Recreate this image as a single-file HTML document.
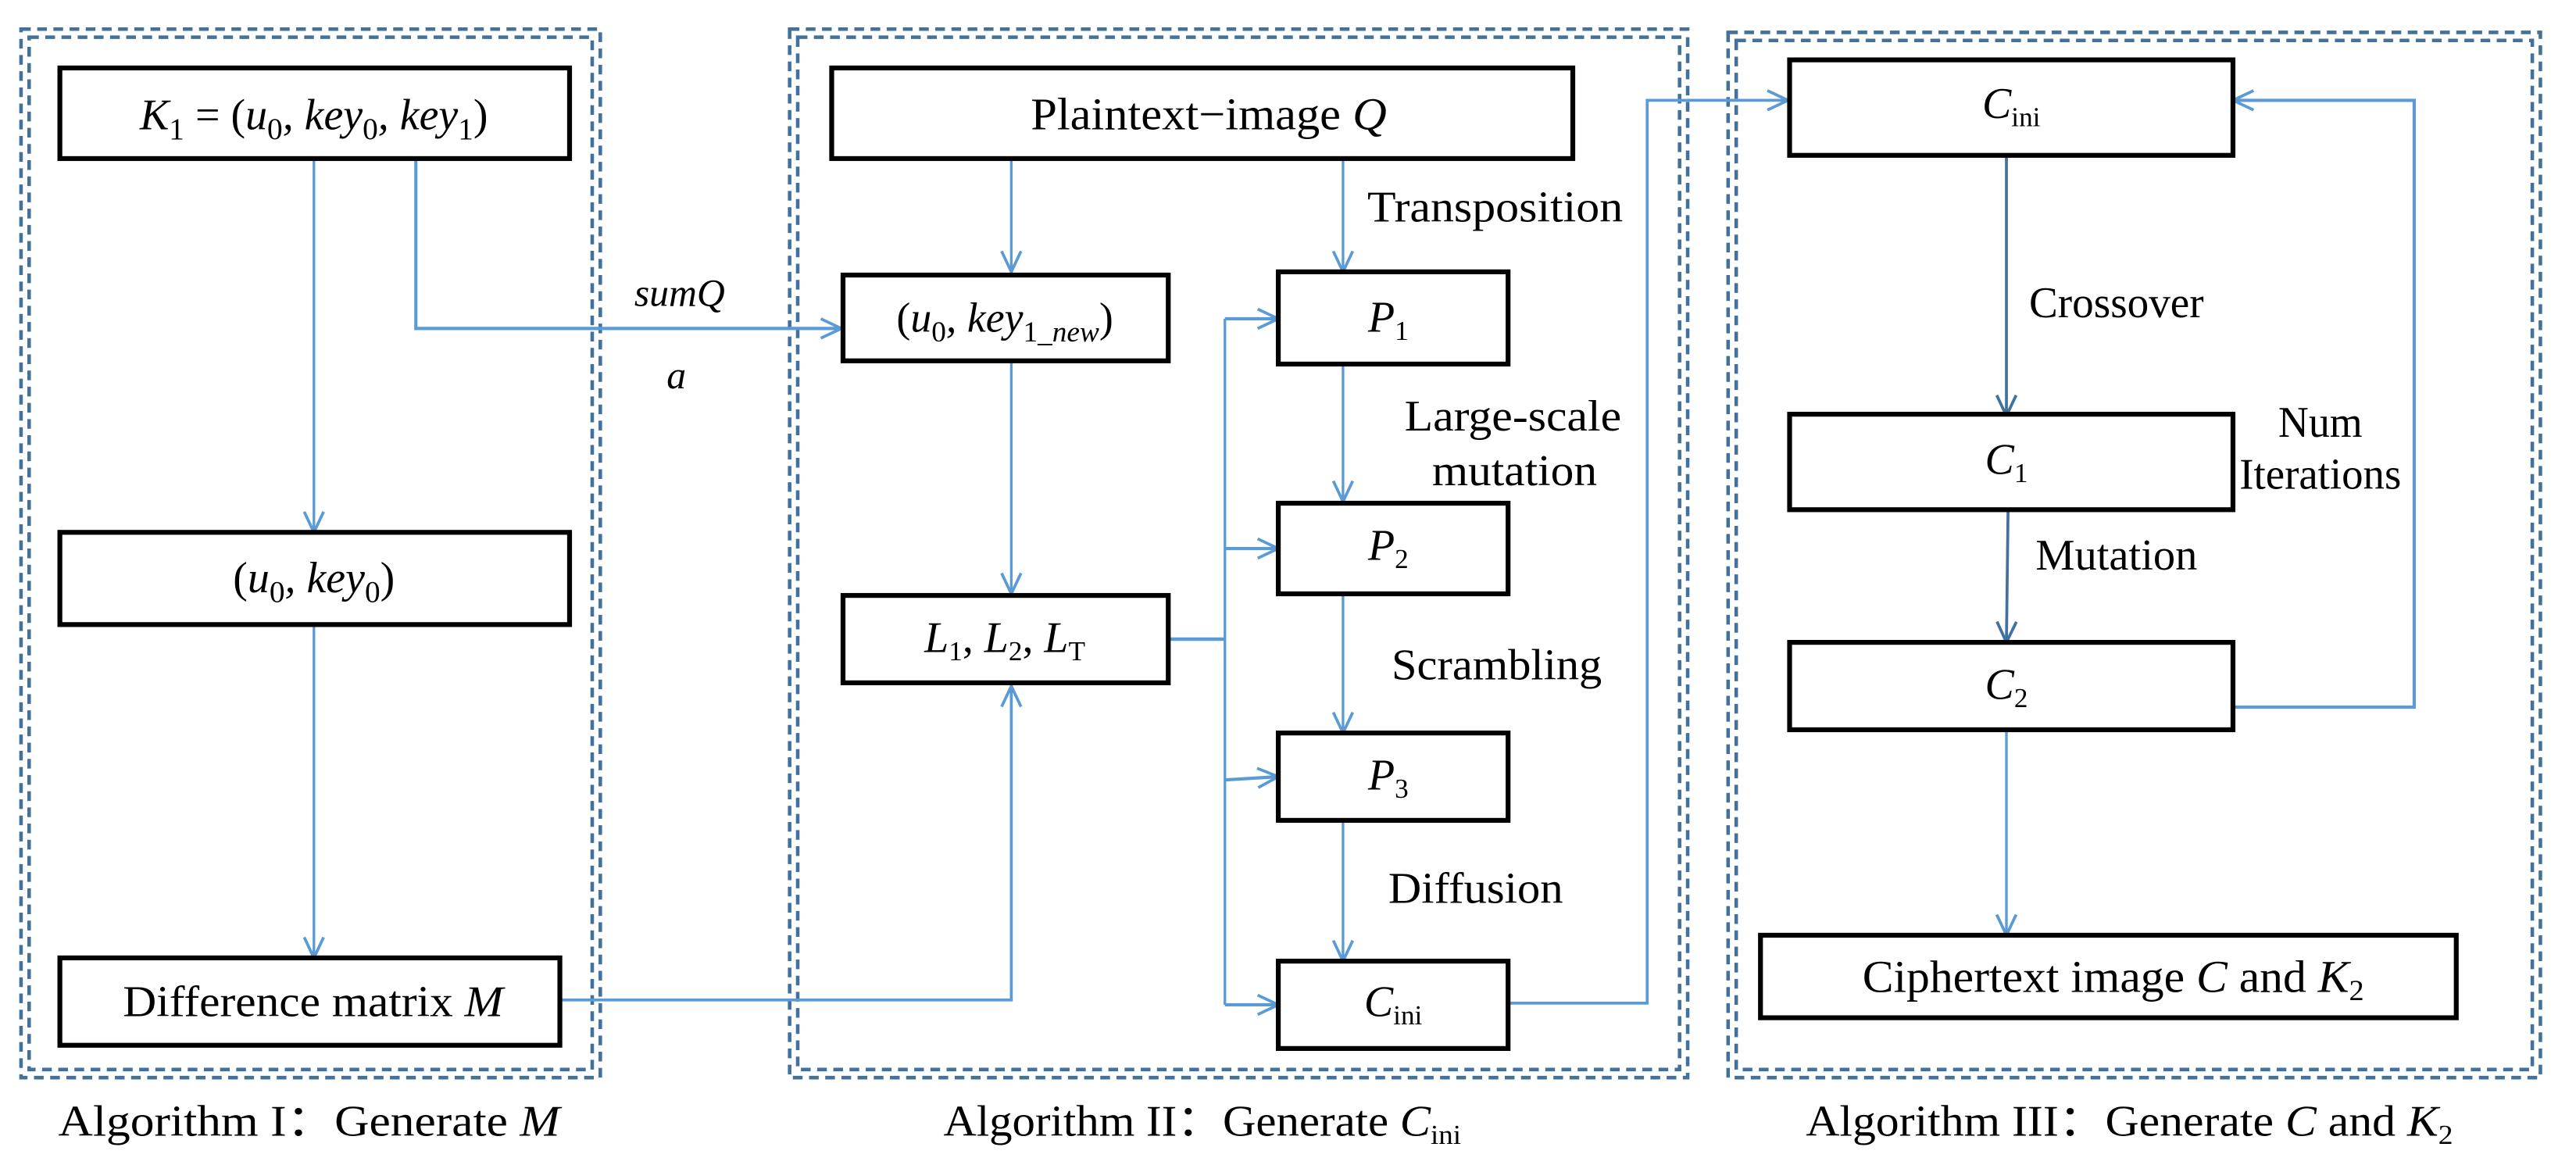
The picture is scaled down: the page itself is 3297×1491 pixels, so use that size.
<!DOCTYPE html>
<html><head><meta charset="utf-8"><style>
html,body{margin:0;padding:0;background:#fff;}
svg{display:block;}
text{font-family:"Liberation Serif",serif;fill:#000;}
.it{font-style:italic;}
</style></head><body>
<svg width="3297" height="1491" viewBox="0 0 1592 720" preserveAspectRatio="none" xmlns="http://www.w3.org/2000/svg">
<defs>
<marker id="ah" viewBox="0 0 20 20" refX="19" refY="10" markerWidth="15" markerHeight="15" markerUnits="userSpaceOnUse" orient="auto">
<path d="M2,2 L19,10 L2,18" fill="none" stroke="#5b9bd5" stroke-width="2.4"/>
</marker>
<marker id="ahd" viewBox="0 0 20 20" refX="19" refY="10" markerWidth="15" markerHeight="15" markerUnits="userSpaceOnUse" orient="auto">
<path d="M2,2 L19,10 L2,18" fill="none" stroke="#41719c" stroke-width="2.4"/>
</marker>
</defs>
<g fill="none" stroke="#41719c" stroke-width="2.2" stroke-dasharray="6,4">
<rect x="13" y="18" width="358" height="648"/>
<rect x="18" y="23" width="348" height="638"/>
<rect x="488" y="18" width="555" height="648"/>
<rect x="493" y="23" width="545" height="638"/>
<rect x="1068" y="20" width="502" height="646"/>
<rect x="1073" y="25" width="492" height="636"/>
</g>
<g fill="none" stroke="#5b9bd5" stroke-width="1.6">
<line x1="194" y1="99" x2="194" y2="329" marker-end="url(#ah)"/>
<polyline points="257,99 257,203 520,203" stroke-width="2" marker-end="url(#ah)"/>
<line x1="194" y1="387" x2="194" y2="592" marker-end="url(#ah)"/>
<polyline points="346,618 625,618 625,424" stroke-width="1.8" marker-end="url(#ah)"/>
<line x1="625" y1="97" x2="625" y2="168" marker-end="url(#ah)"/>
<line x1="625" y1="223" x2="625" y2="367" marker-end="url(#ah)"/>
<line x1="830" y1="97" x2="830" y2="168" marker-end="url(#ah)"/>
<line x1="830" y1="226" x2="830" y2="310" marker-end="url(#ah)"/>
<line x1="830" y1="368" x2="830" y2="453" marker-end="url(#ah)"/>
<line x1="830" y1="508" x2="830" y2="594" marker-end="url(#ah)"/>
<line x1="722" y1="395" x2="757" y2="395" stroke-width="2.2"/>
<line x1="757" y1="197" x2="757" y2="621"/>
<line x1="757" y1="197" x2="790" y2="197" stroke-width="2" marker-end="url(#ah)"/>
<line x1="757" y1="339" x2="790" y2="339" stroke-width="2" marker-end="url(#ah)"/>
<line x1="757" y1="482" x2="790" y2="480" stroke-width="2" marker-end="url(#ah)"/>
<line x1="757" y1="621" x2="790" y2="621" stroke-width="2" marker-end="url(#ah)"/>
<polyline points="932,620 1018,620 1018,62 1105,62" stroke-width="1.8" marker-end="url(#ah)"/>
<polyline points="1380,437 1492,437 1492,62 1380,62" stroke-width="2" marker-end="url(#ah)"/>
<line x1="1240" y1="452" x2="1240" y2="578" marker-end="url(#ah)"/>
</g>
<g fill="none" stroke="#41719c" stroke-width="1.8">
<line x1="1240" y1="97" x2="1240" y2="257" marker-end="url(#ahd)"/>
<line x1="1241" y1="316" x2="1240" y2="397" marker-end="url(#ahd)"/>
</g>
<g fill="#fff" stroke="#000" stroke-width="3">
<rect x="37" y="42" width="315" height="56"/>
<rect x="37" y="329" width="315" height="57"/>
<rect x="37" y="592" width="309" height="54"/>
<rect x="514" y="42" width="458" height="56"/>
<rect x="521" y="170" width="201" height="53"/>
<rect x="521" y="368" width="201" height="54"/>
<rect x="790" y="168" width="142" height="57"/>
<rect x="790" y="311" width="142" height="56"/>
<rect x="790" y="453" width="142" height="54"/>
<rect x="790" y="594" width="142" height="54"/>
<rect x="1106" y="37" width="274" height="59"/>
<rect x="1106" y="256" width="274" height="59"/>
<rect x="1106" y="397" width="274" height="54"/>
<rect x="1088" y="578" width="430" height="51"/>
</g>
<text x="194" y="80" font-size="27" text-anchor="middle" class="it">K<tspan font-style="normal" font-size="19" dy="6">1</tspan><tspan dy="-6" font-style="normal"> = (</tspan>u<tspan font-style="normal" font-size="19" dy="6">0</tspan><tspan dy="-6">, key</tspan><tspan font-style="normal" font-size="19" dy="6">0</tspan><tspan dy="-6">, key</tspan><tspan font-style="normal" font-size="19" dy="6">1</tspan><tspan dy="-6" font-style="normal">)</tspan></text>
<text x="194" y="366" font-size="27" text-anchor="middle" class="it"><tspan font-style="normal">(</tspan>u<tspan font-style="normal" font-size="19" dy="6">0</tspan><tspan dy="-6">, key</tspan><tspan font-style="normal" font-size="19" dy="6">0</tspan><tspan dy="-6" font-style="normal">)</tspan></text>
<text x="76" y="628" font-size="27" textLength="235" lengthAdjust="spacingAndGlyphs">Difference matrix <tspan class="it">M</tspan></text>
<text x="637" y="80" font-size="28" textLength="220" lengthAdjust="spacingAndGlyphs">Plaintext−image <tspan class="it">Q</tspan></text>
<text x="621" y="205" font-size="26" text-anchor="middle" class="it"><tspan font-style="normal">(</tspan>u<tspan font-style="normal" font-size="18" dy="6">0</tspan><tspan dy="-6">, key</tspan><tspan font-size="18" dy="6"><tspan font-style="normal">1</tspan>_new</tspan><tspan dy="-6" font-style="normal">)</tspan></text>
<text x="621" y="403" font-size="27" text-anchor="middle" class="it">L<tspan font-style="normal" font-size="17" dy="5">1</tspan><tspan dy="-5" font-style="normal">, </tspan>L<tspan font-style="normal" font-size="17" dy="5">2</tspan><tspan dy="-5" font-style="normal">, </tspan>L<tspan font-style="normal" font-size="17" dy="5">T</tspan></text>
<text x="858" y="205" font-size="27" text-anchor="middle" class="it">P<tspan font-style="normal" font-size="17" dy="5">1</tspan></text>
<text x="858" y="346" font-size="27" text-anchor="middle" class="it">P<tspan font-style="normal" font-size="17" dy="5">2</tspan></text>
<text x="858" y="488" font-size="27" text-anchor="middle" class="it">P<tspan font-style="normal" font-size="17" dy="5">3</tspan></text>
<text x="861" y="628" font-size="27" text-anchor="middle" class="it">C<tspan font-style="normal" font-size="17" dy="5">ini</tspan></text>
<text x="1243" y="73" font-size="27" text-anchor="middle" class="it">C<tspan font-style="normal" font-size="17" dy="5">ini</tspan></text>
<text x="1240" y="293" font-size="27" text-anchor="middle" class="it">C<tspan font-style="normal" font-size="17" dy="5">1</tspan></text>
<text x="1240" y="432" font-size="27" text-anchor="middle" class="it">C<tspan font-style="normal" font-size="17" dy="5">2</tspan></text>
<text x="1151" y="613" font-size="28" textLength="310" lengthAdjust="spacingAndGlyphs">Ciphertext image <tspan class="it">C</tspan> and <tspan class="it">K</tspan><tspan font-size="18" dy="5">2</tspan></text>
<text x="420" y="189" font-size="24" text-anchor="middle" class="it">sumQ</text>
<text x="418" y="240" font-size="24" text-anchor="middle" class="it">a</text>
<text x="845" y="137" font-size="27" textLength="158" lengthAdjust="spacingAndGlyphs">Transposition</text>
<text x="868" y="266" font-size="27" textLength="134" lengthAdjust="spacingAndGlyphs">Large-scale</text>
<text x="885" y="300" font-size="27" textLength="102" lengthAdjust="spacingAndGlyphs">mutation</text>
<text x="860" y="420" font-size="27" textLength="130" lengthAdjust="spacingAndGlyphs">Scrambling</text>
<text x="858" y="558" font-size="27" textLength="108" lengthAdjust="spacingAndGlyphs">Diffusion</text>
<text x="1254" y="196" font-size="27" textLength="108" lengthAdjust="spacingAndGlyphs">Crossover</text>
<text x="1258" y="352" font-size="27" textLength="100" lengthAdjust="spacingAndGlyphs">Mutation</text>
<text x="1434" y="270" font-size="27" text-anchor="middle" textLength="52" lengthAdjust="spacingAndGlyphs">Num</text>
<text x="1434" y="302" font-size="27" text-anchor="middle" textLength="100" lengthAdjust="spacingAndGlyphs">Iterations</text>
<text x="36" y="702" font-size="27" textLength="310" lengthAdjust="spacingAndGlyphs">Algorithm I：Generate <tspan class="it">M</tspan></text>
<text x="583" y="702" font-size="27" textLength="320" lengthAdjust="spacingAndGlyphs">Algorithm II：Generate <tspan class="it">C</tspan><tspan font-size="17" dy="5">ini</tspan></text>
<text x="1116" y="702" font-size="27" textLength="400" lengthAdjust="spacingAndGlyphs">Algorithm III：Generate <tspan class="it">C</tspan> and <tspan class="it">K</tspan><tspan font-size="17" dy="5">2</tspan></text>
</svg>
</body></html>
